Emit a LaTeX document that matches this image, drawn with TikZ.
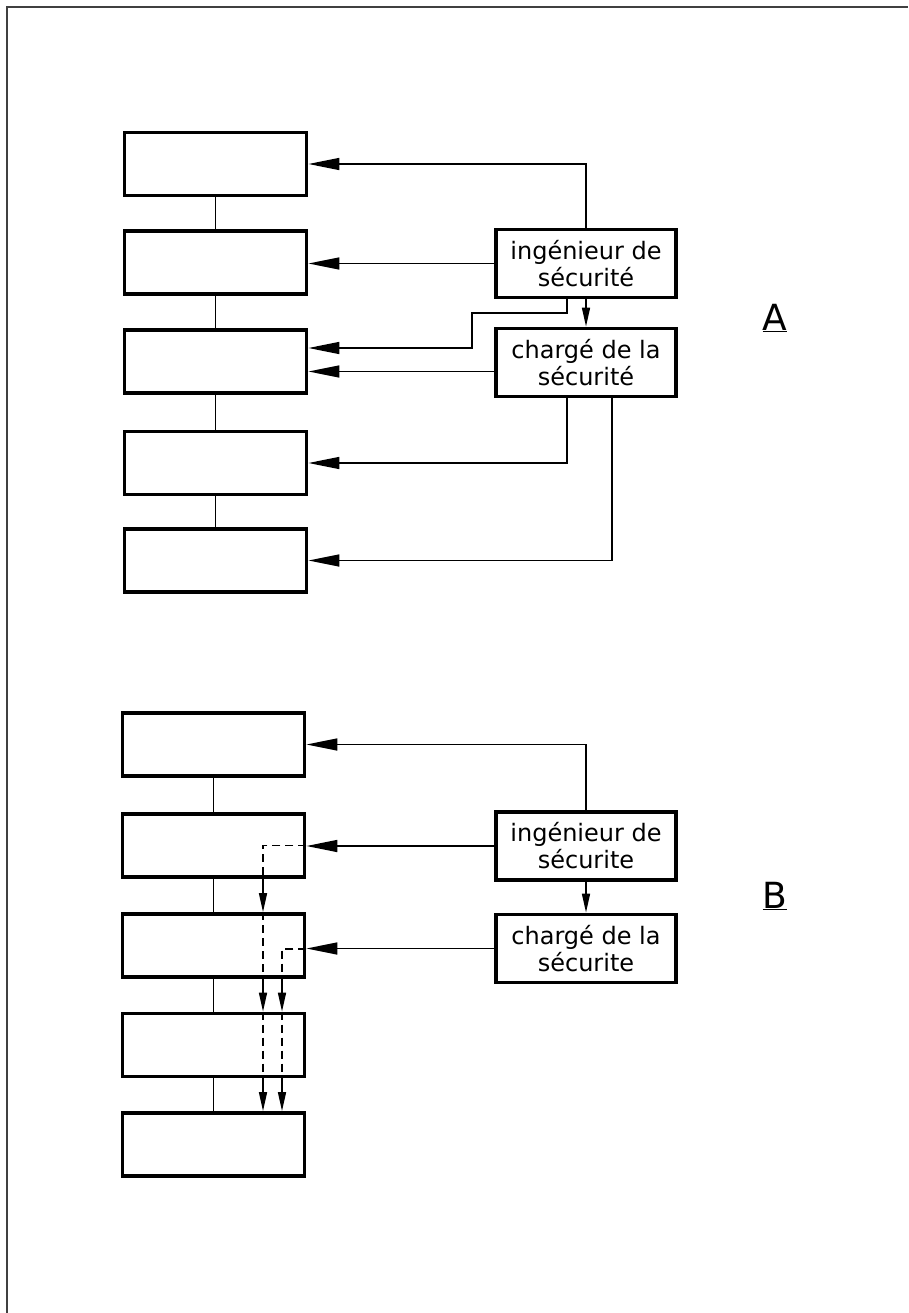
\documentclass[tikz,border=0pt]{standalone}
\usepackage{fontspec}
\setmainfont{DejaVu Sans}
\usetikzlibrary{arrows.meta}
\tikzset{box/.style = {draw, line width=3.8pt, minimum width=182pt, minimum height=63pt}}
\tikzset{role/.style = {draw, line width=3.8pt, minimum width=180pt, minimum height=68pt,
                        align=center, font=\fontsize{24}{27}\selectfont}}
\tikzset{link/.style = {line width=1.6pt}}
\tikzset{big/.style = {link, -{Triangle[length=31pt, width=12pt]}}}
\tikzset{small/.style = {link, -{Triangle[length=19pt, width=8pt]}}}
\tikzset{inside/.style = {link, dash pattern=on 8pt off 5pt}}
\tikzset{letter/.style = {font=\fontsize{36}{40}\selectfont}}

\begin{document}
\begin{tikzpicture}[x=1pt, y=-1pt]
      \useasboundingbox (0, 0) rectangle (908, 1313);
      \draw [line width=2pt, black!75] (7, 1313) -- (7, 7) -- (908, 7);

      % A
      \foreach \i/\y in {1/164, 2/262.5, 3/361.5, 4/463, 5/560.5}
        \node [box] (a\i) at (215.5, \y) {};
      \foreach \i/\j in {1/2, 2/3, 3/4, 4/5}
        \draw [link] (a\i) -- (a\j);

      \node [role] (ia) at (586, 263.5) {ingénieur de\\sécurité};
      \node [role] (ca) at (586, 362.5) {chargé de la\\sécurité};
      \node [letter] (la) at (775, 318) {\underline{A}};
      \coordinate (jog) at (472, 313);

      \draw [big] (ia.north) |- (a1.east);
      \draw [big] (ia.west) -- (ia.west -| a2.east);
      \draw [big] ([xshift=-19pt]ia.south) |- (jog) |- ([yshift=13.5pt]a3.east);
      \draw [small] (ia) -- (ca);
      \draw [big] ([yshift=-9pt]ca.west) -- ([yshift=-9pt]ca.west -| a3.east);
      \draw [big] ([xshift=-19pt]ca.south) |- (a4.east);
      \draw [big] ([xshift=26pt]ca.south) |- (a5.east);

      % B
      \foreach \i/\y in {1/744.5, 2/845.5, 3/945.5, 4/1045, 5/1144.5}
        \node [box] (b\i) at (213.5, \y) {};
      \foreach \i/\j in {1/2, 2/3, 3/4, 4/5}
        \draw [link] (b\i) -- (b\j);

      \node [role] (ib) at (586, 846) {ingénieur de\\sécurite};
      \node [role] (cb) at (586, 948.5) {chargé de la\\sécurite};
      \node [letter] (lb) at (775, 896) {\underline{B}};
      \coordinate (lane1) at (263, 0);
      \coordinate (lane2) at (282, 0);

      \draw [big] (ib.north) |- (b1.east);
      \draw [big] (ib.west) -- (ib.west -| b2.east);
      \draw [small] (ib) -- (cb);
      \draw [big] (cb.west) -- (cb.west -| b3.east);

      \draw [inside] (b2.east) -| (b2.south -| lane1);
      \foreach \i/\j in {2/3, 3/4, 4/5} {
        \draw [small] (b\i.south -| lane1) -- (b\j.north -| lane1);
        \ifnum\j<5 \draw [inside] (b\j.north -| lane1) -- (b\j.south -| lane1); \fi
      }
      \draw [inside] ([yshift=-3.5pt]b3.east) -| (b3.south -| lane2);
      \draw [small] (b3.south -| lane2) -- (b4.north -| lane2);
      \draw [inside] (b4.north -| lane2) -- (b4.south -| lane2);
      \draw [small] (b4.south -| lane2) -- (b5.north -| lane2);
    \end{tikzpicture}
\end{document}
